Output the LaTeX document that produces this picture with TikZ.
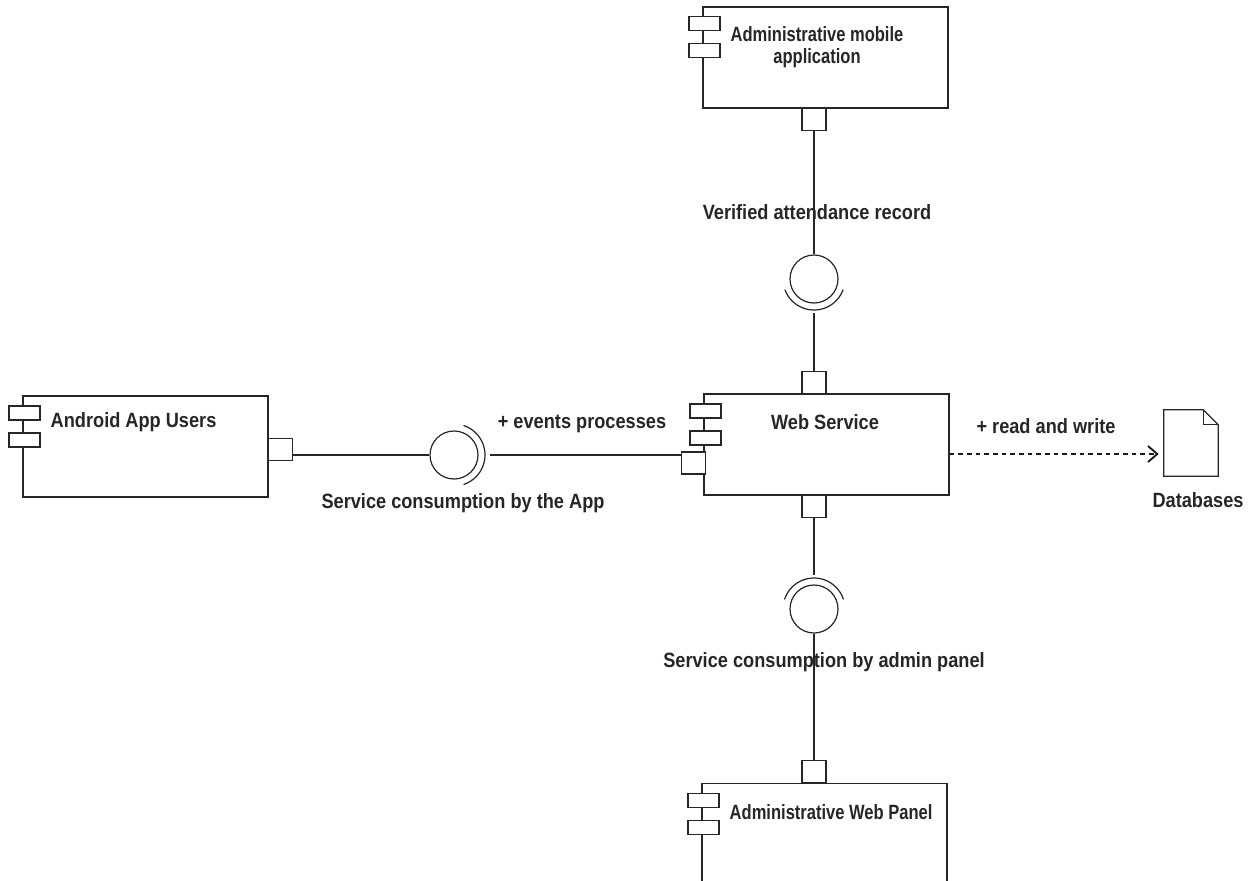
\documentclass[tikz,border=0pt]{standalone}
\usepackage{fontspec}
\setmainfont{Liberation Sans}[FakeStretch=0.88]
\usetikzlibrary{arrows.meta}

\begin{document}
\begin{tikzpicture}[x=0.75pt,y=0.75pt,yscale=-1,xscale=1,
  every node/.style={font=\bfseries\fontsize{15.5}{18}\selectfont, text=black!85},
  tight/.style={font=\bfseries\fontsize{15.5}{16.5}\selectfont\addfontfeature{FakeStretch=0.8}},
  comp/.style={draw=black!85, line width=0.9pt, minimum width=183.75pt, minimum height=75.75pt, inner sep=0pt},
  stub/.style={draw=black!85, fill=white, line width=0.9pt, minimum width=23.25pt, minimum height=10.5pt, inner sep=0pt},
  port/.style={draw=black!85, fill=white, line width=0.9pt, minimum width=18pt, minimum height=16.5pt, inner sep=0pt},
  ball/.style={draw=black!85, circle, line width=0.9pt, minimum size=36pt, inner sep=0pt},
  wire/.style={draw=black!85, line width=0.9pt},
  dep/.style={draw=black!90, line width=1.4pt, dash pattern=on 3.5pt off 3pt, -{Straight Barb[length=7pt,width=12pt]}}]
\useasboundingbox (0,0) rectangle (1253,881);
\clip (0,0) rectangle (1253,881);

%Components
\node[comp] (adm) at (825.5,57.5) {};
\node[comp] (ws) at (826.5,444.5) {};
\node[comp] (app) at (145.5,446.5) {};
\node[comp] (pan) at (824.5,834) {};
\foreach \c in {adm,ws,app,pan}{
  \node[stub] (\c-s1) at ([shift={(2,17.5)}]\c.north west) {};
  \node[stub] (\c-s2) at ([shift={(2,44.5)}]\c.north west) {};
}

%Ports
\node[port, anchor=north] (adm-p) at (814,108) {};
\node[port, anchor=south] (ws-pt) at (814,394) {};
\node[port, anchor=north] (ws-pb) at (814,495) {};
\node[port, anchor=east] (ws-pl) at (706,463) {};
\node[port, anchor=west] (app-p) at (268,449.5) {};
\node[port, anchor=south] (pan-p) at (814,783) {};

%Interfaces
\node[ball] (b1) at (814,279) {};
\node[ball] (b2) at (814,609) {};
\node[ball] (b3) at (454,455) {};
\draw[wire] ([shift={(20:31)}]b1.center) arc[start angle=20, end angle=160, radius=31];
\draw[wire] ([shift={(198:31)}]b2.center) arc[start angle=198, end angle=342, radius=31];
\draw[wire] ([shift={(-72:31)}]b3.center) arc[start angle=-72, end angle=72, radius=31];
\coordinate (k1) at ([shift={(0,34)}]b1.center);
\coordinate (k2) at ([shift={(0,-34)}]b2.center);
\coordinate (k3) at ([shift={(36,0)}]b3.center);

% Text Node
\node[tight] (adm-t) at (817,47) [align=center] {Administrative mobile\\application};
\node (ws-t) at (825,422) {Web Service};
\node (app-t) at (46,422) [anchor=west] {Android App Users};
\node[tight] (pan-t) at (725,812) [anchor=west] {Administrative Web Panel};
\node (l1) at (817,212) {Verified attendance record};
\node (l2) at (582,424) {+ events processes};
\node (l3) at (463,503) {Service consumption by the App};
\node (l4) at (824,662) {Service consumption by admin panel};
\node (l5) at (1046,426) {+ read and write};
\node (l6) at (1198,500) {Databases};

%Straight Lines
\draw[wire] (adm-p) -- (b1);
\draw[wire] (k1) -- (ws-pt);
\draw[wire] (ws-pb) -- (k2);
\draw[wire] (b2) -- (pan-p);
\draw[wire] (app-p.east |- b3) -- (b3);
\draw[wire] (k3) -- (ws-pl.west |- k3);

%Databases
\node[minimum width=40.5pt, minimum height=49.5pt, inner sep=0pt] (db) at (1191,443) {};
\draw[wire] (db.south west) -- (db.north west) -- ([shift={(-15,0)}]db.north east) -- ([shift={(0,15)}]db.north east) -- (db.south east) -- cycle;
\draw[wire] ([shift={(-15,0)}]db.north east) -- ([shift={(-15,15)}]db.north east) -- ([shift={(0,15)}]db.north east);
\draw[dep] ([shift={(0,9.5)}]ws.east) -- ([shift={(-5,11)}]db.west);

\end{tikzpicture}
\end{document}
